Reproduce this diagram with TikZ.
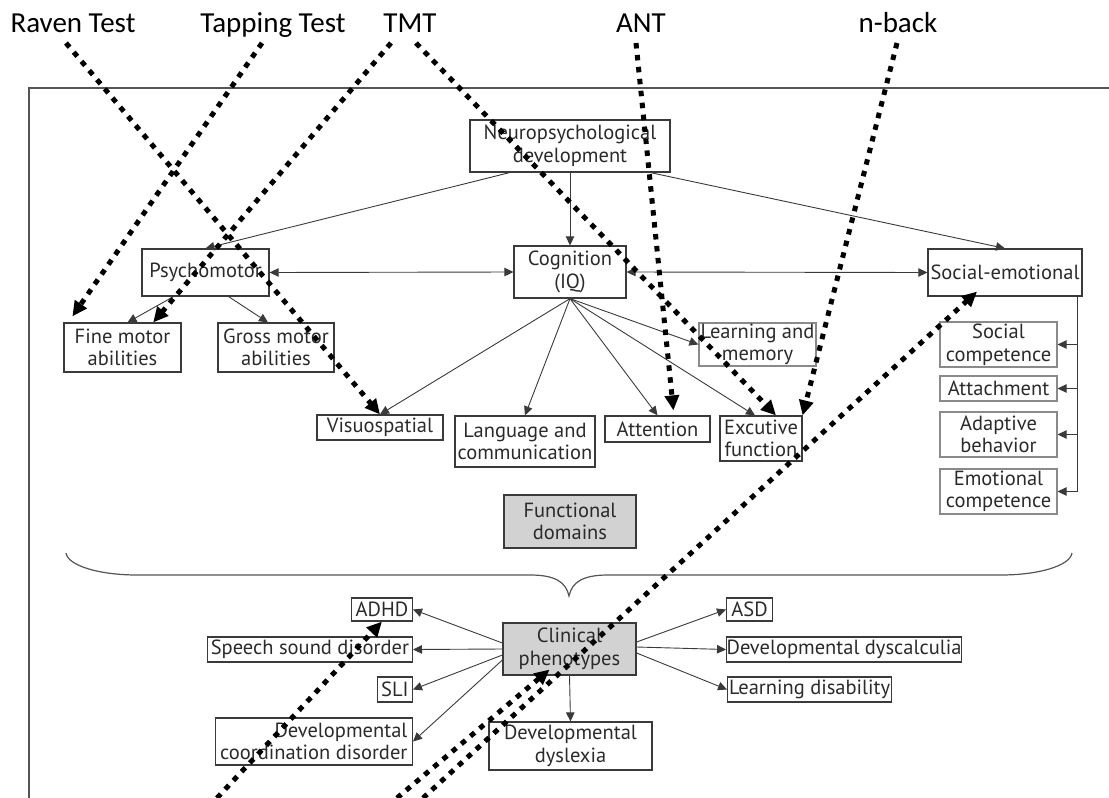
\documentclass[tikz,border=0pt]{standalone}
\usepackage{fontspec}
\usepackage{tikz}
\usetikzlibrary{arrows.meta,calc}

\newfontfamily\boxfamily{PT Sans}
\newfontfamily\testfamily{Carlito}
\newcommand{\boxfont}{\boxfamily\fontsize{20.5}{22.5}\selectfont}
\newcommand{\testfont}{\testfamily\fontsize{29}{32}\selectfont}

\definecolor{inkgray}{HTML}{2A2A2A}
\definecolor{edgegray}{HTML}{3A3A3A}
\definecolor{softedge}{HTML}{8A8A8A}
\definecolor{panelgray}{HTML}{D2D2D2}
\definecolor{framegray}{HTML}{555555}

\begin{document}
\begin{tikzpicture}[x=1pt, y=-1pt,
  box/.style={draw=edgegray, line width=1.2pt, inner sep=0pt, align=center, font=\boxfont, text=inkgray},
  softbox/.style={box, draw=softedge},
  panel/.style={box, fill=panelgray},
  conn/.style={draw=edgegray, line width=0.9pt, -{Triangle[length=9pt,width=8.5pt]}},
  twoway/.style={conn, {Triangle[length=9pt,width=8.5pt]}-{Triangle[length=9pt,width=8.5pt]}},
  probe/.style={black, line width=5pt, dash pattern=on 5.5pt off 6.5pt, -{Triangle[length=15pt,width=14pt]}},
  testlabel/.style={font=\testfont, anchor=base, inner sep=0pt}]
\useasboundingbox (0,0) rectangle (1109,798);

% open frame and brace
\draw[framegray, line width=1.4pt] (1109,88) -- (29,88) -- (29,798);
\draw[framegray, line width=1.2pt] (66,553) .. controls (68,566) and (100,575) .. (137,575) -- (530,575)
  .. controls (555,575) and (566,582) .. (569,596) .. controls (572,582) and (583,575) .. (608,575)
  -- (1001,575) .. controls (1038,575) and (1070,566) .. (1072,553);

% test names
\node[testlabel] (raven) at (73,32) {Raven Test};
\node[testlabel] (tapping) at (273,32) {Tapping Test};
\node[testlabel] (tmt) at (410,32) {TMT};
\node[testlabel] (ant) at (641,32) {ANT};
\node[testlabel] (nback) at (898,32) {n-back};

% functional domains
\node[box, minimum width=200pt, minimum height=52pt] (neuro) at (570,146) {Neuropsychological\\development};
\node[box, minimum width=127pt, minimum height=47pt] (psycho) at (205.5,272.5) {Psychomotor};
\node[box, minimum width=112pt, minimum height=52pt] (cog) at (570,272) {Cognition\\(IQ)};
\node[box, minimum width=154pt, minimum height=47pt] (social) at (1005,272.5) {Social-emotional};

\node[box, minimum width=117pt, minimum height=49pt] (fine) at (122.5,347.5) {Fine motor\\abilities};
\node[box, minimum width=116pt, minimum height=49pt] (gross) at (276,347.5) {Gross motor\\abilities};
\node[softbox, minimum width=117pt, minimum height=43pt] (learn) at (757.5,344.5) {Learning and\\memory};
\node[box, minimum width=126pt, minimum height=25pt] (visuo) at (380,427.5) {Visuospatial};
\node[box, minimum width=140pt, minimum height=51pt] (lang) at (525,441.5) {Language and\\communication};
\node[box, minimum width=105pt, minimum height=26pt] (attn) at (657.5,429) {Attention};
\node[box, minimum width=82pt, minimum height=45pt] (exec) at (761,438.5) {Excutive\\function};

\node[softbox, minimum width=117pt, minimum height=45pt] (socc) at (998.5,344.5) {Social\\competence};
\node[softbox, minimum width=117pt, minimum height=25pt] (attach) at (998.5,388.5) {Attachment};
\node[softbox, minimum width=117pt, minimum height=45pt] (adapt) at (998.5,434.5) {Adaptive\\behavior};
\node[softbox, minimum width=117pt, minimum height=45pt] (emo) at (998.5,491.5) {Emotional\\competence};

\node[panel, minimum width=132pt, minimum height=53pt] (func) at (570,521.5) {Functional\\domains};

% clinical phenotypes
\node[panel, minimum width=133pt, minimum height=52pt] (clin) at (569.5,649) {Clinical\\phenotypes};
\node[box, anchor=east, minimum width=61pt, minimum height=23pt] (adhd) at (413,609.5) {ADHD};
\node[box, anchor=east, minimum width=205pt, minimum height=25pt] (speech) at (413,649.5) {Speech sound disorder};
\node[box, anchor=east, minimum width=35pt, minimum height=25pt] (sli) at (413,689.5) {SLI};
\node[box, anchor=east, align=right, inner xsep=5pt, minimum width=192pt, minimum height=47pt] (dcd) at (413,741.5) {Developmental\\coordination disorder};
\node[box, minimum width=163pt, minimum height=48pt] (dysl) at (570.5,746) {Developmental\\dyslexia};
\node[box, anchor=west, minimum width=46pt, minimum height=23pt] (asd) at (726,609.5) {ASD};
\node[box, anchor=west, minimum width=231pt, minimum height=25pt] (dysc) at (726,649.5) {Developmental dyscalculia};
\node[box, anchor=west, minimum width=164pt, minimum height=25pt] (ld) at (727,689.5) {Learning disability};

% connectors
\draw[conn] ($(neuro.south west)!0.2!(neuro.south east)$) -- (psycho.north);
\draw[conn] (neuro.south) -- (cog.north);
\draw[conn] ($(neuro.south west)!0.9!(neuro.south east)$) -- (social.north);
\draw[twoway] (psycho.east) -- (cog.west);
\draw[twoway] (cog.east) -- (social.west);
\draw[conn] ($(psycho.south west)!0.25!(psycho.south east)$) -- ([xshift=5pt]fine.north);
\draw[conn] ($(psycho.south west)!0.68!(psycho.south east)$) -- ([xshift=-8pt]gross.north);
\foreach \t in {visuo,lang,attn}
  \draw[conn] (cog.south) -- (\t.north);
\draw[conn] (cog.south) -- ([xshift=-6pt]exec.north);
\draw[conn] (cog.south) -- (learn.west);
\coordinate (bus) at ([xshift=-5pt]social.south east);
\draw[conn] (bus) |- (emo.east);
\foreach \b in {socc,attach,adapt}
  \draw[conn] (bus |- \b.east) -- (\b.east);

\draw[conn] ([yshift=6pt]clin.west) -- (adhd.east);
\draw[conn] (clin.west) -- (speech.east);
\draw[conn] ([yshift=-6pt]clin.west) -- (sli.east);
\draw[conn] ([yshift=-11pt]clin.west) -- (dcd.east);
\draw[conn] (clin.south) -- (dysl.north);
\draw[conn] ([yshift=7pt]clin.east) -- (asd.west);
\draw[conn] ([yshift=2pt]clin.east) -- (dysc.west);
\draw[conn] ([yshift=-4pt]clin.east) -- (ld.west);

% test probes
\coordinate (p-raven) at (66,43);
\coordinate (p-tap) at (262,43);
\coordinate (p-tmt1) at (391,43);
\coordinate (p-tmt2) at (416,43);
\coordinate (p-ant) at (636,43);
\coordinate (p-nback) at (897,43);
\coordinate (p-low1) at (217,798);
\coordinate (p-low2) at (397,798);
\coordinate (p-low3) at (423,798);
\draw[probe] (p-raven) -- (visuo.north);
\draw[probe] (p-tap) -- ($(fine.north west)+(9,-6)$);
\draw[probe] (p-tmt1) -- ($(fine.north west)!0.76!(fine.north east)$);
\draw[probe] (p-tmt2) -- ($(exec.north west)!0.68!(exec.north east)$);
\draw[probe] (p-ant) -- ($(attn.north west)!0.65!(attn.north east)+(0,-5)$);
\draw[probe] (p-nback) -- (exec.north east);
\draw[probe] (p-low1) -- (adhd.south);
\draw[probe] (p-low2) -- ($(clin.south)+(-20,-6)$);
\draw[probe] (p-low3) -- ($(social.south)+(-28,-5)$);
\end{tikzpicture}
\end{document}
